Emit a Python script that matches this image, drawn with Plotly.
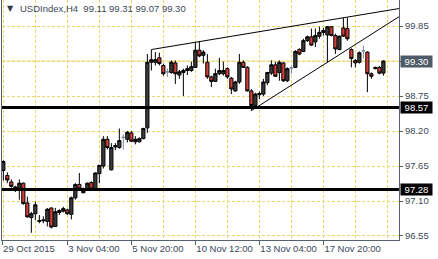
import plotly.graph_objects as go

# ---------------- data (USDIndex, H4 bars) ----------------
opens = [97.58, 97.50, 97.40, 97.27, 97.30, 97.38, 97.07, 96.84, 96.90, 96.78,
         96.79, 96.78, 96.99, 96.70, 96.92, 96.94, 96.96, 96.89, 97.15, 97.36,
         97.29, 97.28, 97.39, 97.29, 97.53, 97.65, 98.07, 97.59, 97.95, 97.94,
         98.10, 98.07, 98.17, 98.03, 98.03, 98.08, 98.25, 99.28, 99.28, 99.35,
         99.23, 99.13, 99.12, 99.27, 99.08, 99.12, 99.15, 99.15, 99.20, 99.47,
         99.39, 99.28, 99.05, 98.98, 99.10, 99.10, 99.18, 99.03, 98.83, 98.97,
         99.28, 99.20, 98.83, 98.60, 98.77, 98.78, 98.96, 99.11, 99.24, 99.12,
         99.27, 98.99, 99.19, 99.20, 99.48, 99.45, 99.62, 99.68, 99.60, 99.69,
         99.75, 99.71, 99.84, 99.70, 99.48, 99.82, 99.81, 99.48, 99.31, 99.28,
         99.46, 99.44, 99.10, 99.18, 99.20, 99.11]
highs = [97.74, 97.55, 97.44, 97.34, 97.44, 97.39, 97.17, 96.93, 97.09, 96.88,
         96.86, 96.99, 97.00, 96.99, 96.97, 97.01, 96.98, 97.17, 97.38, 97.54,
         97.31, 97.39, 97.41, 97.55, 97.67, 98.12, 98.12, 98.01, 98.01, 98.24,
         98.15, 98.20, 98.20, 98.12, 98.10, 98.25, 99.41, 99.48, 99.44, 99.43,
         99.26, 99.18, 99.31, 99.31, 99.16, 99.18, 99.23, 99.29, 99.60, 99.61,
         99.47, 99.41, 99.07, 99.18, 99.35, 99.29, 99.20, 99.05, 98.99, 99.41,
         99.31, 99.22, 98.86, 98.80, 98.82, 99.02, 99.13, 99.31, 99.29, 99.31,
         99.28, 99.20, 99.23, 99.47, 99.50, 99.65, 99.70, 99.81, 99.81, 99.84,
         99.82, 99.85, 99.85, 99.73, 99.70, 99.98, 99.98, 99.50, 99.33, 99.45,
         99.54, 99.45, 99.12, 99.21, 99.22, 99.31]
lows = [97.42, 97.38, 97.31, 97.24, 97.12, 97.04, 96.84, 96.60, 96.80, 96.75,
        96.75, 96.70, 96.67, 96.69, 96.88, 96.92, 96.88, 96.81, 97.12, 97.27,
        97.22, 97.27, 97.27, 97.28, 97.38, 97.61, 97.91, 97.58, 97.90, 97.92,
        97.91, 98.02, 98.03, 97.99, 98.02, 98.07, 98.17, 99.15, 99.23, 99.23,
        99.07, 99.05, 99.10, 98.94, 99.02, 98.75, 99.08, 99.13, 99.19, 99.36,
        99.26, 99.02, 98.89, 98.97, 99.08, 99.07, 99.02, 98.78, 98.82, 98.94,
        99.19, 98.82, 98.52, 98.55, 98.70, 98.75, 98.92, 99.08, 99.05, 98.99,
        98.97, 98.97, 99.10, 99.19, 99.39, 99.44, 99.60, 99.54, 99.52, 99.65,
        99.70, 99.28, 99.69, 99.41, 99.47, 99.68, 99.62, 99.20, 99.20, 99.26,
        99.34, 98.81, 99.02, 99.17, 99.09, 99.07]
closes = [97.72, 97.43, 97.33, 97.32, 97.38, 97.06, 96.85, 96.90, 97.04, 96.79,
          96.80, 96.97, 96.69, 96.93, 96.95, 96.98, 96.90, 97.15, 97.36, 97.29,
          97.23, 97.38, 97.29, 97.54, 97.66, 98.07, 97.94, 97.94, 97.97, 98.05,
          98.10, 98.18, 98.04, 98.07, 98.08, 98.24, 99.28, 99.32, 99.32, 99.26,
          99.10, 99.13, 99.28, 99.10, 99.13, 99.15, 99.18, 99.21, 99.47, 99.38,
          99.44, 99.05, 98.98, 99.10, 99.15, 99.15, 99.05, 98.86, 98.97, 99.28,
          99.20, 98.83, 98.60, 98.78, 98.79, 98.97, 99.12, 99.24, 99.06, 99.28,
          98.99, 99.18, 99.19, 99.45, 99.41, 99.62, 99.68, 99.55, 99.70, 99.75,
          99.78, 99.84, 99.70, 99.49, 99.69, 99.69, 99.65, 99.34, 99.27, 99.43,
          99.46, 99.10, 99.06, 99.20, 99.11, 99.30]
bar_index = list(range(len(opens)))

symbol = "USDIndex,H4"
x_tick_bars = [-0.3, 16, 32, 48, 64, 80]
x_tick_labels = ["29 Oct 2015", "3 Nov 04:00", "5 Nov 20:00",
                 "10 Nov 12:00", "13 Nov 04:00", "17 Nov 20:00"]
y_tick_values = [96.55, 97.10, 97.65, 98.20, 98.75, 99.30, 99.85]
levels = [98.57, 97.28]
upper_trend_bars = [37, 85]
upper_trend_prices = [99.48, 99.98]
lower_trend_bars = [62, 81]
lower_trend_prices = [98.52, 99.28]

x_range = [-0.33, 98.9]
y_range = [96.487, 100.259]

# ---------------- styles ----------------
FONT = "Liberation Sans"
TXT = "#3B4858"
GRID = "#E6D873"
AXIS = "#56616C"
BULL_FILL = "#3A3A3A"
BEAR_FILL = "#D43F3A"
DOJI = "#7D8C9C"

doji = [i for i in bar_index if opens[i] == closes[i]]
body = [i for i in bar_index if opens[i] != closes[i]]

fig = go.Figure()
fig.add_trace(go.Candlestick(
    x=[bar_index[i] for i in body],
    open=[opens[i] for i in body], high=[highs[i] for i in body],
    low=[lows[i] for i in body], close=[closes[i] for i in body],
    increasing=dict(line=dict(color="#000000", width=1), fillcolor=BULL_FILL),
    decreasing=dict(line=dict(color="#000000", width=1), fillcolor=BEAR_FILL),
    showlegend=False, hoverinfo="skip"))
fig.add_trace(go.Candlestick(
    x=[bar_index[i] for i in doji],
    open=[opens[i] for i in doji], high=[highs[i] for i in doji],
    low=[lows[i] for i in doji], close=[closes[i] for i in doji],
    increasing=dict(line=dict(color=DOJI, width=1), fillcolor=DOJI),
    decreasing=dict(line=dict(color=DOJI, width=1), fillcolor=DOJI),
    showlegend=False, hoverinfo="skip"))

# trend lines drawn as rays to the right edge
for bars, prices in ((upper_trend_bars, upper_trend_prices),
                     (lower_trend_bars, lower_trend_prices)):
    slope = (prices[1] - prices[0]) / (bars[1] - bars[0])
    end_price = prices[0] + slope * (x_range[1] - bars[0])
    fig.add_trace(go.Scatter(x=[bars[0], x_range[1]], y=[prices[0], end_price],
                             mode="lines", line=dict(color="#000000", width=1),
                             showlegend=False, hoverinfo="skip"))

shapes = [dict(type="line", xref="paper", x0=0, x1=1, yref="y",
               y0=closes[-1], y1=closes[-1], layer="below",
               line=dict(color="#EEE292", width=1))]
for lv in levels:
    shapes.append(dict(type="line", xref="paper", x0=0, x1=1, yref="y",
                       y0=lv, y1=lv, line=dict(color="#000000", width=3)))

annotations = [
    dict(text="\u25BC", xref="paper", yref="paper", x=0, y=1, xanchor="center",
         yanchor="middle", xshift=8, yshift=-8, showarrow=False,
         font=dict(family="DejaVu Sans", size=8, color="#303A46")),
    dict(text=f"{symbol}\u00a0\u00a0{opens[-1]:.2f} {highs[-1]:.2f} {lows[-1]:.2f} {closes[-1]:.2f}",
         xref="paper", yref="paper", x=0, y=1, xanchor="left", yanchor="middle",
         xshift=16, yshift=-8, showarrow=False,
         font=dict(family=FONT, size=9.5, color=TXT)),
    dict(text=f"{closes[-1]:.2f}", xref="paper", yref="y", x=1, y=closes[-1],
         xanchor="left", yanchor="middle", xshift=1, showarrow=False,
         bgcolor="#4E5B68", width=31, height=11, borderpad=0,
         font=dict(family=FONT, size=9.5, color="#FFFFFF")),
]
for lv in levels:
    annotations.append(dict(text=f"{lv:.2f}", xref="paper", yref="y", x=1, y=lv,
                            xanchor="left", yanchor="middle", xshift=1,
                            showarrow=False, bgcolor="#000000", width=31,
                            height=11, borderpad=0,
                            font=dict(family=FONT, size=9.5, color="#FFFFFF")))

fig.update_layout(
    width=438, height=259,
    margin=dict(l=2, r=39, t=0, b=19, autoexpand=False),
    paper_bgcolor="#FFFFFF", plot_bgcolor="#FFFFFF",
    showlegend=False, boxgap=0.2, boxgroupgap=0.0,
    shapes=shapes, annotations=annotations,
    font=dict(family=FONT, size=9.5, color=TXT),
    xaxis=dict(range=x_range, rangeslider=dict(visible=False),
               tickmode="array", tickvals=x_tick_bars, ticktext=x_tick_labels,
               ticks="outside", ticklen=4, tickcolor=AXIS, tickangle=0,
               ticklabelposition="outside right", automargin=False,
               showgrid=True, gridcolor=GRID, griddash="3px,2px", gridwidth=1,
               minor=dict(tickmode="linear", tick0=0, dtick=8, showgrid=True,
                          gridcolor=GRID, griddash="3px,2px", gridwidth=1),
               showline=True, linecolor=AXIS, linewidth=1, zeroline=False,
               tickfont=dict(family=FONT, size=9.5, color=TXT)),
    yaxis=dict(range=y_range, side="right", tickmode="array",
               tickvals=y_tick_values, automargin=False,
               ticktext=[f"{v:.2f}" for v in y_tick_values],
               ticks="outside", ticklen=3, tickcolor=AXIS,
               showgrid=True, gridcolor=GRID, griddash="3px,2px", gridwidth=1,
               showline=True, mirror=True, linecolor=AXIS, linewidth=1,
               zeroline=False,
               tickfont=dict(family=FONT, size=9.5, color=TXT)),
)

fig.write_html("out.html")
